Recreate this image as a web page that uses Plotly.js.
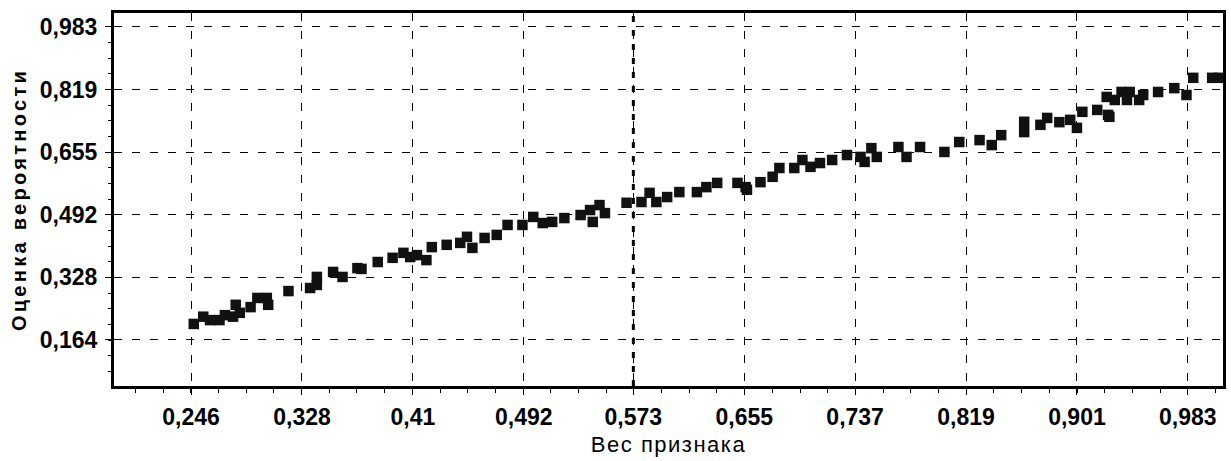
<!DOCTYPE html>
<html><head><meta charset="utf-8">
<script src="https://cdn.plot.ly/plotly-3.0.1.min.js"></script>
<style>
body{margin:0;background:#fff}
.ytitle{letter-spacing:3.3px}
.xtitle{letter-spacing:1.5px}
</style>
</head><body><div id="chart" style="width:1231px;height:461px"></div>
<script>
const weights = [0.248,0.255,0.260,0.267,0.271,0.277,0.279,0.282,0.290,0.295,0.302,0.303,0.318,0.334,0.339,0.339,0.351,0.358,0.369,0.372,
  0.384,0.395,0.403,0.408,0.413,0.420,0.424,0.435,0.445,0.450,0.454,0.463,0.472,0.480,0.491,0.499,0.506,0.513,0.522,0.534,
  0.541,0.543,0.548,0.552,0.568,0.579,0.585,0.590,0.598,0.607,0.620,0.627,0.635,0.650,0.656,0.657,0.667,0.676,0.681,0.692,
  0.698,0.704,0.711,0.720,0.731,0.741,0.744,0.749,0.753,0.769,0.775,0.785,0.803,0.814,0.829,0.838,0.845,0.862,0.862,0.874,
  0.879,0.888,0.896,0.901,0.905,0.916,0.924,0.923,0.929,0.934,0.925,0.938,0.940,0.947,0.950,0.961,0.973,0.982,0.987,1.001,1.006];
const probs = [0.206,0.225,0.216,0.216,0.229,0.225,0.256,0.235,0.250,0.274,0.274,0.256,0.292,0.300,0.329,0.308,0.342,0.329,0.352,0.350,
  0.368,0.379,0.392,0.381,0.386,0.373,0.407,0.413,0.418,0.434,0.405,0.431,0.439,0.465,0.465,0.486,0.470,0.473,0.483,0.491,
  0.504,0.473,0.517,0.496,0.523,0.525,0.549,0.525,0.538,0.551,0.551,0.564,0.575,0.575,0.564,0.557,0.577,0.591,0.614,0.614,
  0.635,0.617,0.627,0.635,0.648,0.643,0.630,0.666,0.643,0.669,0.643,0.669,0.656,0.682,0.687,0.674,0.700,0.735,0.708,0.727,
  0.745,0.734,0.740,0.719,0.761,0.766,0.753,0.800,0.792,0.813,0.748,0.792,0.813,0.792,0.805,0.813,0.823,0.805,0.850,0.850,0.850];
const xTickVals = [0.246,0.328,0.41,0.492,0.573,0.655,0.737,0.819,0.901,0.983];
const xTickText = ['0,246','0,328','0,41','0,492','0,573','0,655','0,737','0,819','0,901','0,983'];
const yTickVals = [0.164,0.328,0.492,0.655,0.819,0.983];
const yTickText = ['0,164','0,328','0,492','0,655','0,819','0,983'];
const xTitle = 'Вес признака';
const yTitle = 'Оценка вероятности';
const boldGridValue = xTickVals[4];

const tickFont = {family:'Liberation Sans, Arial, sans-serif', size:23, color:'#000', weight:'bold'};
const xTitleFont = {family:'Liberation Sans, Arial, sans-serif', size:22, color:'#000'};
const yTitleFont = {family:'Liberation Sans, Arial, sans-serif', size:20, color:'#000', weight:'bold'};

const trace = {
  type:'scatter', mode:'markers', x:weights, y:probs,
  marker:{symbol:'square', size:10.5, color:'#111', line:{width:0}},
  hoverinfo:'skip', showlegend:false
};

const layout = {
  width:1231, height:461,
  margin:{l:114, r:8, t:13, b:75},
  paper_bgcolor:'#fff', plot_bgcolor:'#fff',
  xaxis:{
    range:[0.189,1.009], tickvals:xTickVals, ticktext:xTickText,
    showgrid:true, gridcolor:'#000', gridwidth:1, griddash:'8px,10px',
    zeroline:false, showline:true, linecolor:'#000', linewidth:3, mirror:true,
    ticks:'outside', ticklen:6, tickwidth:1, tickcolor:'#000',
    minor:{tick0:0, dtick:0.983/48, ticks:'outside', ticklen:4, tickcolor:'#000', showgrid:false},
    tickfont:tickFont, ticklabelstandoff:2,
    title:{text:xTitle, font:xTitleFont, standoff:9}
  },
  yaxis:{
    range:[0.0436,1.0196], tickvals:yTickVals, ticktext:yTickText,
    showgrid:true, gridcolor:'#000', gridwidth:1, griddash:'8px,10px',
    zeroline:false, showline:true, linecolor:'#000', linewidth:3, mirror:true,
    ticks:'outside', ticklen:6, tickwidth:1, tickcolor:'#000',
    minor:{tick0:0, dtick:0.983/24, ticks:'outside', ticklen:3, tickcolor:'#000', showgrid:false},
    tickfont:tickFont, ticklabelstandoff:3,
    title:{text:yTitle, font:yTitleFont, standoff:8}
  },
  shapes:[{type:'line', xref:'x', yref:'paper', x0:boldGridValue, x1:boldGridValue, y0:0, y1:1,
    line:{color:'#000', width:3, dash:'6px,8px'}, layer:'below'}]
};

Plotly.newPlot('chart',[trace],layout,{displayModeBar:false, staticPlot:true});
</script>
</body></html>
